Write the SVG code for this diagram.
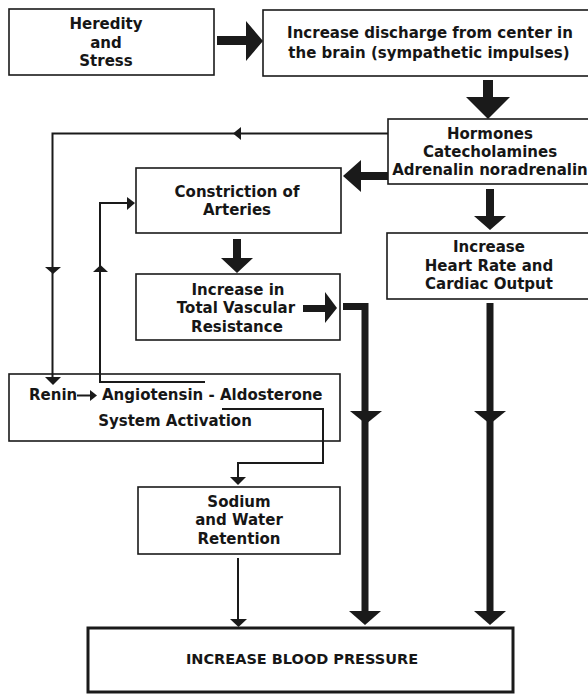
<svg xmlns="http://www.w3.org/2000/svg" width="588" height="694" viewBox="0 0 588 694">
<style>
.box{fill:#fff;stroke:#1a1a1a;stroke-width:1.6}
.bp{fill:#fff;stroke:#1a1a1a;stroke-width:3}
.t{font-family:"DejaVu Sans",sans-serif;font-weight:bold;font-size:15px;fill:#161616;text-anchor:middle}
.ts{font-family:"DejaVu Sans",sans-serif;font-weight:bold;font-size:15px;fill:#161616}
.tb{font-family:"DejaVu Sans",sans-serif;font-weight:bold;font-size:14.5px;fill:#161616;text-anchor:middle}
.thin{fill:none;stroke:#1a1a1a;stroke-width:2}
.thick{fill:none;stroke:#1a1a1a;stroke-width:7}
.ah{fill:#1a1a1a;stroke:none}
</style>
<rect width="588" height="694" fill="#fff"/>
<g id="heredity">
<rect class="box" x="9" y="9" width="205" height="66"/>
<text class="t" x="106" y="29">Heredity</text>
<text class="t" x="106" y="48">and</text>
<text class="t" x="106" y="66">Stress</text>
</g>
<g id="discharge">
<rect class="box" x="263" y="10" width="330" height="66"/>
<text class="t" x="430" y="38">Increase discharge from center in</text>
<text class="t" x="429" y="58">the brain (sympathetic impulses)</text>
</g>
<g id="hormones">
<rect class="box" x="388" y="119" width="205" height="65"/>
<text class="t" x="490" y="139">Hormones</text>
<text class="t" x="490" y="157">Catecholamines</text>
<text class="t" x="490" y="175">Adrenalin noradrenalin</text>
</g>
<g id="constriction">
<rect class="box" x="136" y="168" width="205" height="65"/>
<text class="t" x="237" y="197">Constriction of</text>
<text class="t" x="237" y="215">Arteries</text>
</g>
<g id="resistance">
<rect class="box" x="136" y="274" width="204" height="66"/>
<text class="t" x="238" y="295">Increase in</text>
<text class="t" x="236" y="313">Total Vascular</text>
<text class="t" x="237" y="332">Resistance</text>
</g>
<g id="heart">
<rect class="box" x="387" y="233" width="206" height="66"/>
<text class="t" x="489" y="252">Increase</text>
<text class="t" x="489" y="271">Heart Rate and</text>
<text class="t" x="489" y="289">Cardiac Output</text>
</g>
<g id="renin">
<rect class="box" x="9" y="374" width="331" height="67"/>
<text class="ts" x="29" y="400">Renin</text>
<text class="ts" x="102" y="400">Angiotensin - Aldosterone</text>
<text class="t" x="175" y="426">System Activation</text>
</g>
<g id="sodium">
<rect class="box" x="138" y="487" width="202" height="67"/>
<text class="t" x="239" y="507">Sodium</text>
<text class="t" x="239" y="525">and Water</text>
<text class="t" x="239" y="544">Retention</text>
</g>
<g id="bloodpressure">
<rect class="bp" x="88" y="628" width="425" height="64"/>
<text class="tb" x="302" y="664">INCREASE BLOOD PRESSURE</text>
</g>
<g id="connectors">
<polygon class="ah" points="217,36 246,36 246,21 263,41 246,61 246,45 217,45"/>
<polygon class="ah" points="483,80 493,80 493,97 510,97 488,119 466,97 483,97"/>
<polygon class="ah" points="388,172 361,172 361,160 343,176 361,192 361,180 388,180"/>
<polygon class="ah" points="486,189 494,189 494,216 506,216 490,230 474,216 486,216"/>
<polygon class="ah" points="233,239 241,239 241,258 253,258 237,273 221,258 233,258"/>
<polygon class="ah" points="303,305 325,305 325,292 337,308 325,323 325,312 303,312"/>
<path class="thick" d="M343,306.5 H365 V616" stroke-linejoin="miter"/>
<polygon class="ah" points="350,411 382,411 366,424"/>
<polygon class="ah" points="349,611 381,611 365,625"/>
<path class="thick" d="M490,303 V616"/>
<polygon class="ah" points="474,411 506,411 490,424"/>
<polygon class="ah" points="474,611 506,611 490,625"/>
<path class="thin" d="M388,133.5 H52.5 V379"/>
<polygon class="ah" points="233,133.5 241,127 241,140"/>
<polygon class="ah" points="45,267 61,267 53,274"/>
<polygon class="ah" points="45,377 61,377 53,385"/>
<path class="thin" d="M205,382 H100 V203 H128"/>
<polygon class="ah" points="127,197 135,203 127,210"/>
<polygon class="ah" points="93,272 108,272 100.5,265"/>
<path class="thin" d="M222,409 H323 V463 H238 V479"/>
<polygon class="ah" points="230,477 246,477 238,485"/>
<path class="thin" d="M238,558 V621"/>
<polygon class="ah" points="230,619 247,619 238.5,627"/>
<path class="thin" d="M77,395.5 H91"/>
<polygon class="ah" points="90,390 97,395.5 90,401"/>
</g>
</svg>
